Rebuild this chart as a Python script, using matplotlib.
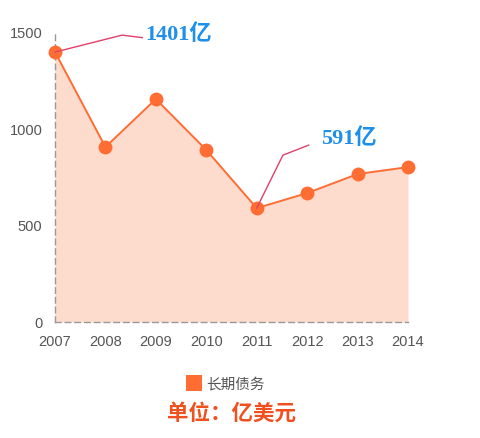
"""
    长期债务 面积折线图
"""
from matplotlib import pyplot as plt
from matplotlib.lines import Line2D

plt.rcParams['font.family'] = ['Liberation Sans', 'Noto Sans CJK SC']

years = [2007, 2008, 2009, 2010, 2011, 2012, 2013, 2014]
debt = [1401, 908, 1157, 893, 591, 669, 768, 804]
y_ticks = [0, 500, 1000, 1500]

line_color = "#FF6D33"
fill_color = "#FDDBCD"

fig = plt.figure(figsize=(4.8, 4.38), dpi=100)
ax = fig.add_axes([55 / 480, 1 - 322 / 438, 353 / 480, 289 / 438])

# 面积 + 折线
ax.fill_between(years, debt, 0, color=fill_color, lw=0)
ax.plot(years, debt, color=line_color, lw=1.4, marker="o", markersize=10,
        markeredgewidth=0, clip_on=False, zorder=3)

ax.set_xlim(years[0], years[-1])
ax.set_ylim(0, 1500)
ax.set_xticks(years)
ax.set_yticks(y_ticks)
ax.tick_params(length=0, labelsize=10.5, labelcolor="#555555")
ax.tick_params(axis="x", pad=9)
ax.tick_params(axis="y", pad=9)

for s in ["top", "right"]:
    ax.spines[s].set_visible(False)
for s in ["left", "bottom"]:
    ax.spines[s].set_color("#999999")
    ax.spines[s].set_linestyle((0, (4, 3)))
    ax.spines[s].set_linewidth(1)

# 标注（最大值、最小值）
mark_font = dict(family=["Liberation Serif", "Noto Sans CJK SC"], weight="bold",
                 size=16, color="#1E8FEA")
lead_color = "#E0406A"

i_max = debt.index(max(debt))
x0, y0 = years[i_max], debt[i_max]
ax.plot([x0, x0 + 1.33, x0 + 1.73], [y0, y0 + 88, y0 + 75], color=lead_color,
        lw=1, clip_on=False, zorder=4)
ax.text(x0 + 1.79, y0 + 90, "{}亿".format(y0), va="center", ha="left", **mark_font)

i_min = debt.index(min(debt))
x1, y1 = years[i_min], debt[i_min]
ax.plot([x1, x1 + 0.52, x1 + 1.03], [y1, y1 + 275, y1 + 327], color=lead_color,
        lw=1, clip_on=False, zorder=4)
ax.text(x1 + 1.27, y1 + 360, "{}亿".format(y1), va="center", ha="left", **mark_font)

# 图例
handle = Line2D([], [], marker="s", color="none", markerfacecolor=line_color,
                markeredgewidth=0, markersize=12)
fig.legend([handle], ["长期债务"], loc="center", bbox_to_anchor=(226 / 480, 1 - 384 / 438),
           frameon=False, handletextpad=0.35, handlelength=1.0,
           prop={"family": ["Noto Sans CJK SC"], "size": 10.5}, labelcolor="#555555")

fig.text(232 / 480, 1 - 413 / 438, "单位：亿美元", ha="center", va="center",
         family=["Noto Sans CJK SC"], weight="bold", size=15.5, color="#F0501E")

plt.savefig("out.png", dpi=100)
